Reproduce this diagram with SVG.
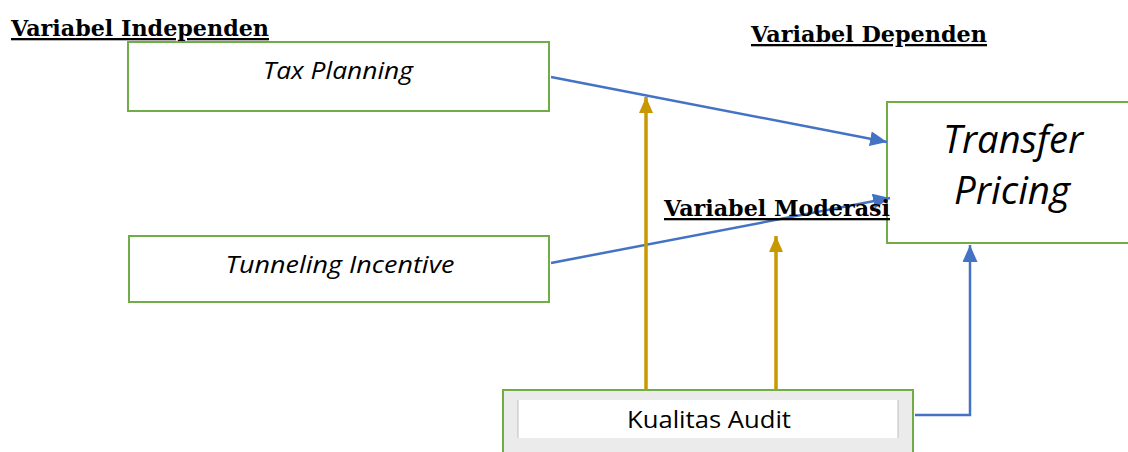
<svg xmlns="http://www.w3.org/2000/svg" width="1128" height="452" viewBox="0 0 1128 452">
<defs>
<style>
.box{fill:#fff;stroke:#70AD47;stroke-width:2}
.hdr{font-family:"DejaVu Serif","Liberation Serif",serif;font-weight:bold;font-size:23px;fill:#000;text-decoration:underline}
.lbl{font-family:"Open Sans","Liberation Sans",sans-serif;font-style:italic;font-size:23px;fill:#000;text-anchor:middle}
.blue{stroke:#4472C4;stroke-width:2.5;fill:none}
.gold{stroke:#C99800;stroke-width:3.5;fill:none}
</style>
<marker id="ab" markerWidth="17" markerHeight="15" viewBox="0 0 17 15" refX="17" refY="7.5" orient="auto" markerUnits="userSpaceOnUse">
<path d="M0,0 L17,7.5 L0,15 z" fill="#4472C4"/>
</marker>
<marker id="ag" markerWidth="16" markerHeight="14" viewBox="0 0 16 14" refX="16" refY="7" orient="auto" markerUnits="userSpaceOnUse">
<path d="M0,0 L16,7 L0,14 z" fill="#C99800"/>
</marker>
</defs>
<rect width="1128" height="452" fill="#fff"/>
<g id="headers">
<text class="hdr" x="11" y="36" textLength="258" lengthAdjust="spacingAndGlyphs">Variabel Independen</text>
<text class="hdr" x="751" y="42" textLength="236" lengthAdjust="spacingAndGlyphs">Variabel Dependen</text>
</g>
<g id="tax-planning">
<rect class="box" x="128" y="42" width="421" height="69"/>
<text class="lbl" x="338" y="79" textLength="150" lengthAdjust="spacingAndGlyphs">Tax Planning</text>
</g>
<g id="tunneling-incentive">
<rect class="box" x="129" y="236" width="420" height="66"/>
<text class="lbl" x="340" y="273" textLength="229" lengthAdjust="spacingAndGlyphs">Tunneling Incentive</text>
</g>
<g id="transfer-pricing">
<rect class="box" x="887" y="102" width="250" height="141"/>
<text class="lbl" x="1013" y="153" style="font-size:38px" textLength="140" lengthAdjust="spacingAndGlyphs">Transfer</text>
<text class="lbl" x="1012" y="204" style="font-size:38px" textLength="116" lengthAdjust="spacingAndGlyphs">Pricing</text>
</g>
<g id="kualitas-audit">
<rect x="503" y="390" width="410" height="70" fill="#EBEBEB" stroke="#70AD47" stroke-width="2"/>
<rect x="518" y="400" width="380" height="38" fill="#fff"/>
<line x1="518" y1="400" x2="518" y2="438" stroke="#BFBFBF" stroke-width="1"/>
<line x1="898" y1="400" x2="898" y2="438" stroke="#BFBFBF" stroke-width="1"/>
<text x="709" y="428" text-anchor="middle" font-family="Open Sans, Liberation Sans, sans-serif" font-size="24" fill="#000" textLength="164" lengthAdjust="spacingAndGlyphs">Kualitas Audit</text>
</g>
<g id="connectors">
<line class="blue" x1="551" y1="77" x2="887" y2="142" marker-end="url(#ab)"/>
<line class="blue" x1="551" y1="263" x2="890" y2="198" marker-end="url(#ab)"/>
<line class="gold" x1="646" y1="390" x2="646" y2="97" marker-end="url(#ag)"/>
<line class="gold" x1="776" y1="390" x2="776" y2="236" marker-end="url(#ag)"/>
<polyline class="blue" points="915,415 970,415 970,245" marker-end="url(#ab)"/>
</g>
<g id="moderasi-label">
<text class="hdr" x="664" y="216" textLength="226" lengthAdjust="spacingAndGlyphs">Variabel Moderasi</text>
</g>
</svg>
